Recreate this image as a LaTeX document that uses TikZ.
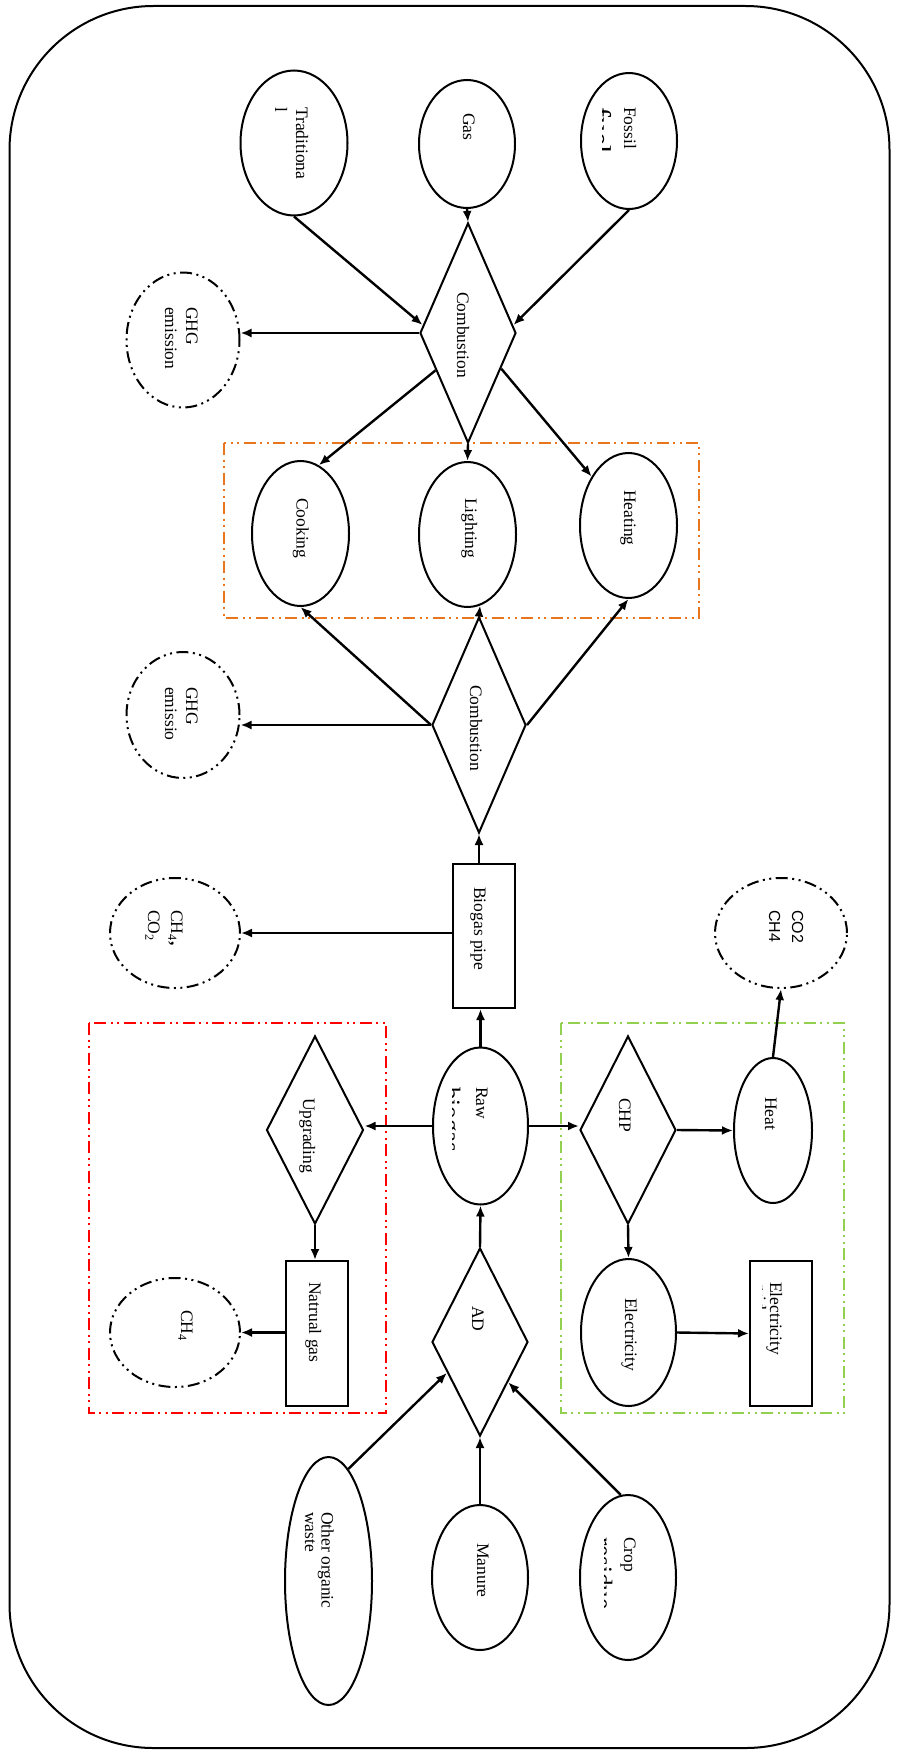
\documentclass[tikz,border=0pt]{standalone}
\usepackage{fontspec}
\setmainfont{Liberation Serif}
\newfontfamily\arialfont{Liberation Sans}
\usetikzlibrary{shapes.geometric,arrows.meta}
\definecolor{grporange}{RGB}{232,118,30}
\definecolor{grpred}{RGB}{255,0,0}
\definecolor{grpgreen}{RGB}{146,208,80}
\begin{document}
\begin{tikzpicture}[x=1pt,y=-1pt,
  oval/.style={ellipse, draw, line width=2pt, inner sep=0pt},
  rhomb/.style={diamond, draw, line width=2pt, inner sep=0pt},
  boxn/.style={rectangle, draw, line width=2pt, inner sep=0pt},
  dotpat/.style={dash pattern=on 12pt off 4.5pt on 2pt off 4.5pt on 2pt off 4.5pt},
  dashoval/.style={ellipse, draw, line width=2pt, inner sep=0pt, dotpat},
  grp/.style={draw, line width=2pt, dotpat},
  arr/.style={line width=2.4pt, -{Latex[length=11pt,width=9pt]}},
  lbl/.style={rotate=-90, anchor=base west, inner sep=0pt, font=\fontsize{17.5}{21}\selectfont},
]
\useasboundingbox (0,0) rectangle (899,1753);
\draw[line width=2pt, rounded corners=144pt] (9.5,6) rectangle (889.5,1748);

% group frames
\draw[grp, grporange] (224,443) rectangle (699,618);
\draw[grp, grpred] (89,1023) rectangle (386,1413);
\draw[grp, grpgreen] (561,1023) rectangle (844,1413);

% shapes
\node[oval, minimum width=107pt, minimum height=145pt] (trad) at (294,143) {};
\node[oval, minimum width=96pt, minimum height=128pt] (gas) at (467,144) {};
\node[oval, minimum width=96pt, minimum height=136pt] (fossil) at (629,141) {};
\node[rhomb, minimum width=96pt, minimum height=220pt] (comb1) at (468,333) {};
\node[dashoval, minimum width=113pt, minimum height=135pt] (ghg1) at (183,340) {};
\node[oval, minimum width=97pt, minimum height=145pt] (cook) at (300.5,533.5) {};
\node[oval, minimum width=97pt, minimum height=145pt] (light) at (467.5,534.5) {};
\node[oval, minimum width=97pt, minimum height=145pt] (heat) at (628.5,525.5) {};
\node[rhomb, minimum width=94pt, minimum height=216pt] (comb2) at (479,725) {};
\node[dashoval, minimum width=113pt, minimum height=126pt] (ghg2) at (183,715) {};
\node[boxn, minimum width=62pt, minimum height=144pt] (pipe) at (484,936) {};
\node[dashoval, minimum width=130pt, minimum height=110pt] (ch4co2) at (175,933) {};
\node[dashoval, minimum width=132pt, minimum height=110pt] (co2ch4) at (781,933) {};
\node[oval, minimum width=95pt, minimum height=157pt] (raw) at (480.5,1126) {};
\node[rhomb, minimum width=97pt, minimum height=188pt] (upg) at (315,1130) {};
\node[rhomb, minimum width=96pt, minimum height=188pt] (chp) at (628,1130) {};
\node[oval, minimum width=78pt, minimum height=145pt] (heatn) at (773,1130.5) {};
\node[boxn, minimum width=62pt, minimum height=145pt] (ng) at (317,1333.5) {};
\node[dashoval, minimum width=130pt, minimum height=109pt] (ch4) at (175,1332.5) {};
\node[oval, minimum width=95pt, minimum height=147pt] (elec) at (628.5,1332.5) {};
\node[boxn, minimum width=62pt, minimum height=145pt] (grid) at (781,1333.5) {};
\node[rhomb, minimum width=96pt, minimum height=188pt] (ad) at (480,1342) {};
\node[oval, minimum width=87pt, minimum height=248pt] (other) at (328.5,1581) {};
\node[oval, minimum width=96pt, minimum height=145pt] (manure) at (480,1577.5) {};
\node[oval, minimum width=96pt, minimum height=165pt] (crop) at (628,1577.5) {};

% connectors
\draw[arr] (gas.south) -- (comb1.north);
\draw[arr] (trad.south) -- (comb1.170);
\draw[arr] (fossil.south) -- (comb1.10);
\draw[arr] (comb1.west) -- (comb1.west -| ghg1.east);
\draw[arr] (comb1.-131) -- (cook.75);
\draw[arr] (comb1.south) -- (light.north);
\draw[arr] (comb1.-47) -- (heat.127);
\draw[arr] (comb2.west) -- (cook.south);
\draw[arr] (comb2.north) -- (light.-80);
\draw[arr] (comb2.east) -- (heat.south);
\draw[arr] (comb2.west) -- (comb2.west -| ghg2.east);
\draw[arr] (pipe.north -| comb2.south) -- (comb2.south);
\draw[arr] (pipe.west |- ch4co2.east) -- (ch4co2.east);
\draw[arr] (raw.north) -- (raw.north |- pipe.south);
\draw[arr] (raw.west) -- (raw.west -| upg.east);
\draw[arr] (raw.east) -- (raw.east -| chp.west);
\draw[arr] (ad.north) -- (raw.south);
\draw[arr] (upg.south) -- (upg.south |- ng.north);
\draw[arr] (ng.west |- ch4.east) -- (ch4.east);
\draw[arr] (chp.east) -- (heatn.west);
\draw[arr] (chp.south) -- (elec.north);
\draw[arr] (elec.east) -- (grid.west);
\draw[arr] (heatn.north) -- (co2ch4.south);
\draw[arr] (other.80) -- (ad.-137);
\draw[arr] (manure.north) -- (ad.south);
\draw[arr] (crop.95) -- (ad.-55);

% labels (one node per printed line)
\node[lbl] (t-trad) at (296,107) {Traditiona};
\node[lbl] (t-trad2) at (275,107) {l};
\node[lbl] (t-gas) at (463,113) {Gas};
\node[lbl] (t-fossil) at (624,107) {Fossil};
\begin{scope}
\clip (602,90) rectangle (618,200);
\node[lbl, font=\fontsize{30}{34}\selectfont] (t-fuel) at (590.5,107) {fuel};
\end{scope}
\node[lbl] (t-ghg1) at (186,307) {GHG};
\node[lbl] (t-ghg1b) at (165,307) {emission};
\node[lbl] (t-comb1) at (457,292) {Combustion};
\node[lbl] (t-cook) at (296.5,498) {Cooking};
\node[lbl] (t-light) at (465,498) {Lighting};
\node[lbl] (t-heat) at (624,490) {Heating};
\node[lbl] (t-comb2) at (470,685) {Combustion};
\node[lbl] (t-ghg2) at (186,687) {GHG};
\node[lbl] (t-ghg2b) at (165,687) {emissio};
\node[lbl] (t-pipe) at (474,887) {Biogas pipe};
\node[lbl] (t-ch4co2) at (171,910) {CH\textsubscript{4}\textbf{,}};
\node[lbl] (t-ch4co2b) at (148,910) {CO\textsubscript{2}};
\node[lbl, font=\arialfont\fontsize{16}{24}\selectfont] (t-co2ch4) at (792,910) {CO2};
\node[lbl, font=\arialfont\fontsize{16}{24}\selectfont] (t-co2ch4b) at (769,910) {CH4};
\node[lbl] (t-raw) at (476,1087) {Raw};
\begin{scope}
\clip (452.5,1070) rectangle (470,1180);
\node[lbl, font=\fontsize{25}{29}\selectfont] (t-biogas) at (443,1087) {biogas};
\end{scope}
\node[lbl] (t-upg) at (303,1098) {Upgrading};
\node[lbl] (t-chp) at (619,1098) {CHP};
\node[lbl] (t-heatn) at (765,1097) {Heat};
\node[lbl] (t-ng) at (309,1282) {Natrual gas};
\node[lbl] (t-ch4) at (181,1310) {CH\textsubscript{4}};
\node[lbl] (t-elec) at (625,1298) {Electricity};
\node[lbl] (t-grid) at (770,1282) {Electricity};
\begin{scope}
\clip (762,1270) rectangle (769,1380);
\node[lbl] (t-gridb) at (754,1282) {grid};
\end{scope}
\node[lbl] (t-ad) at (472,1306) {AD};
\node[lbl] (t-other) at (321.5,1512) {Other organic};
\begin{scope}
\clip (304,1500) rectangle (318,1600);
\node[lbl] (t-waste) at (305,1512) {waste};
\end{scope}
\node[lbl] (t-manure) at (477,1543) {Manure};
\node[lbl] (t-crop) at (624,1537) {Crop};
\begin{scope}
\clip (604,1520) rectangle (615,1640);
\node[lbl, font=\fontsize{25}{29}\selectfont] (t-residue) at (595,1537) {residue};
\end{scope}
\end{tikzpicture}
\end{document}
